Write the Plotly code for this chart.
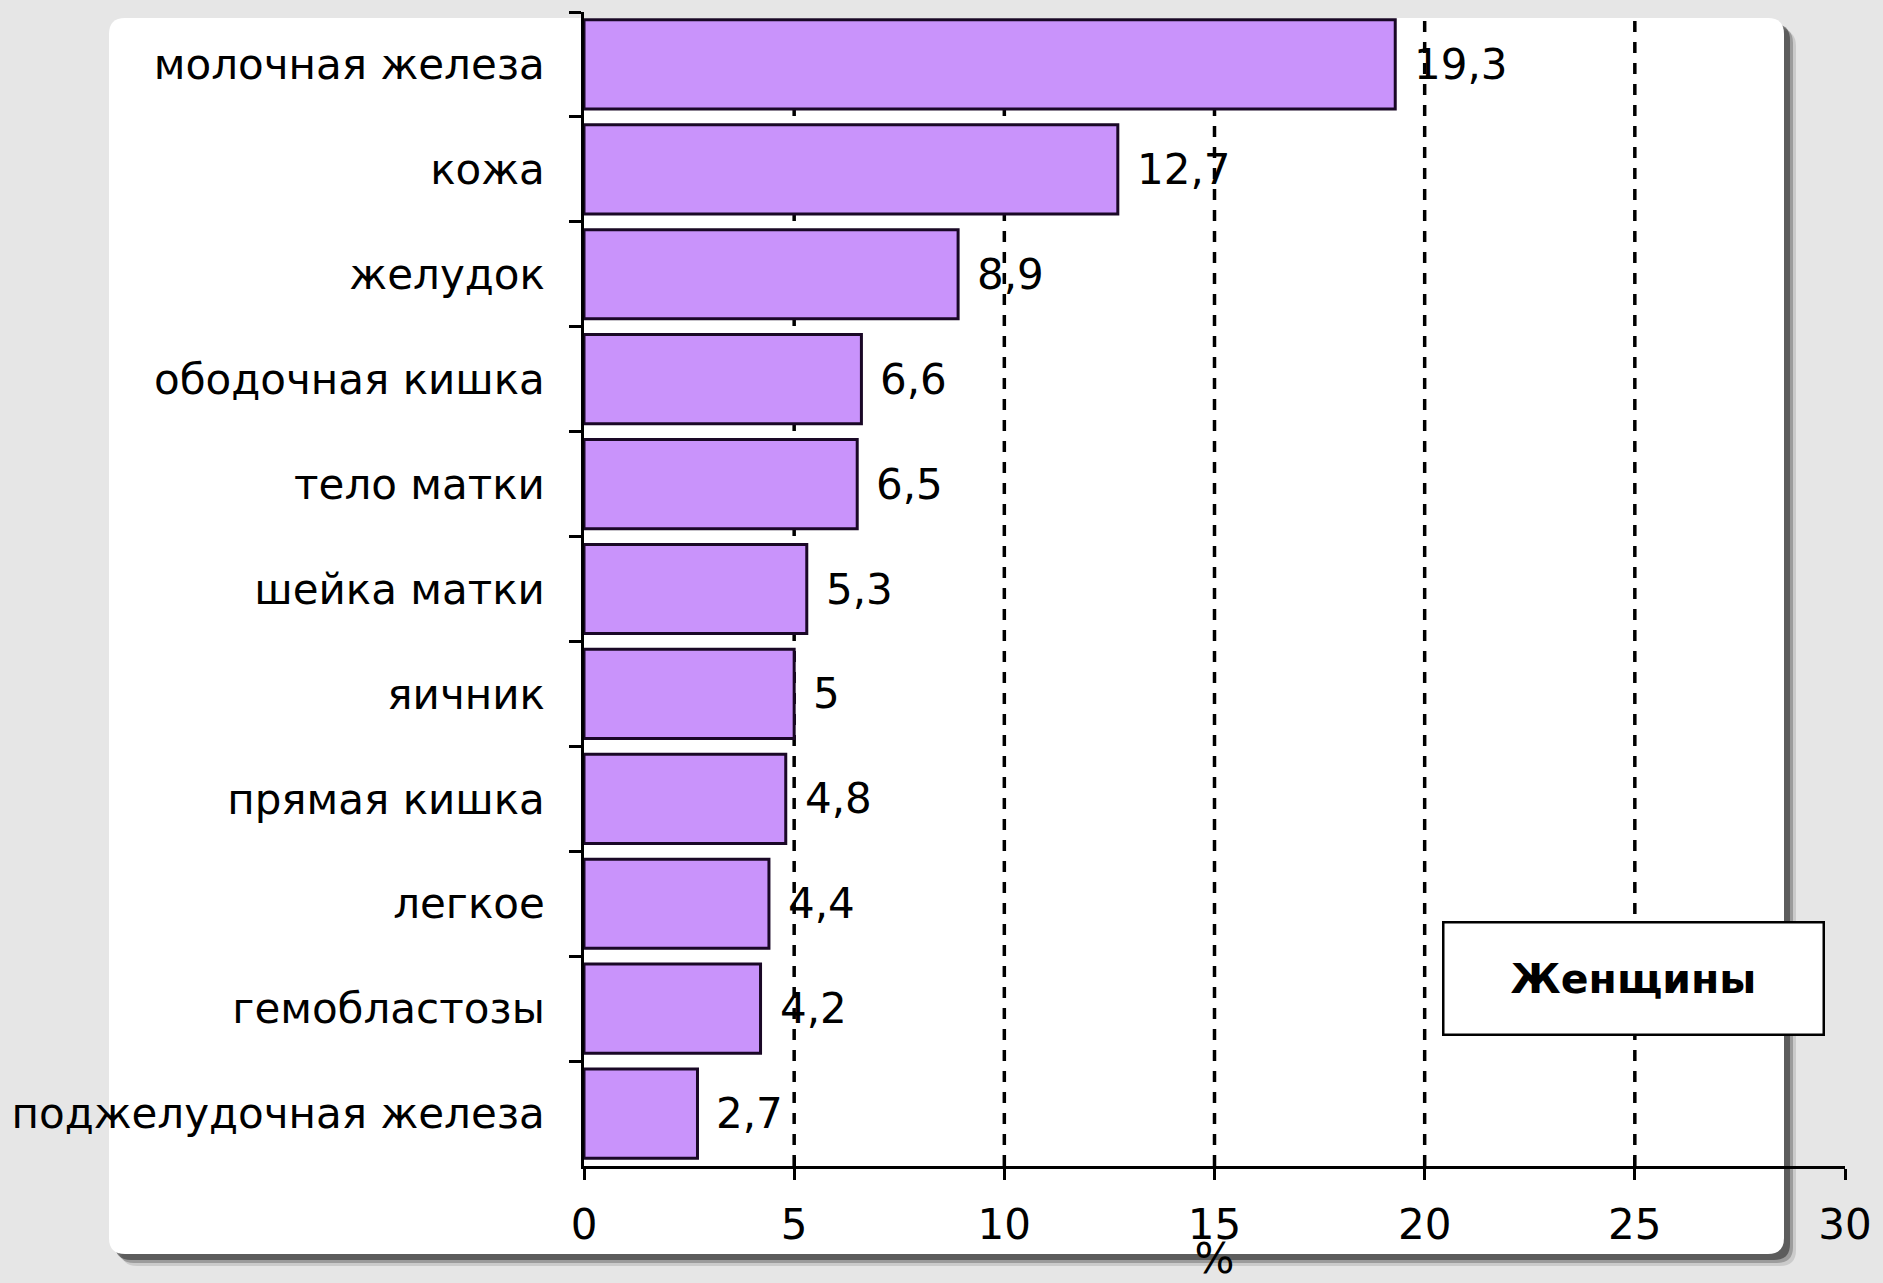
import plotly.graph_objects as go

# ---------------- data ----------------
categories = ["молочная железа", "кожа", "желудок", "ободочная кишка", "тело матки",
              "шейка матки", "яичник", "прямая кишка", "легкое", "гемобластозы",
              "поджелудочная железа"]
values = [19.3, 12.7, 8.9, 6.6, 6.5, 5.3, 5.0, 4.8, 4.4, 4.2, 2.7]
value_labels = ["19,3", "12,7", "8,9", "6,6", "6,5", "5,3", "5", "4,8", "4,4", "4,2", "2,7"]
x_tick_vals = [0, 5, 10, 15, 20, 25, 30]
grid_vals = [5, 10, 15, 20, 25]
legend_text = "Женщины"
axis_title = "%"

# ---------------- layout geometry ----------------
W, H = 1883, 1283
L, R, T, B = 584, 38, 12, 117
PW, PH = W - L - R, H - T - B
FONT = "DejaVu Sans"
FS = 42


def px_x(px):
    return (px - L) / PW


def px_y(py):
    return (H - B - py) / PH


def round_rect(x0, y0, x1, y1, r):
    rx, ry = r / PW, r / PH
    a, b, c, d = px_x(x0), px_x(x1), px_y(y0), px_y(y1)  # left, right, top, bottom
    return (f"M {a+rx},{c} L {b-rx},{c} Q {b},{c} {b},{c-ry} "
            f"L {b},{d+ry} Q {b},{d} {b-rx},{d} L {a+rx},{d} Q {a},{d} {a},{d+ry} "
            f"L {a},{c-ry} Q {a},{c} {a+rx},{c} Z")


shapes = []
# soft shadow of the white panel
for off, col in [(12, "rgba(110,110,110,0.22)"), (9, "rgba(70,70,70,0.35)"), (6, "rgba(40,40,40,0.55)")]:
    shapes.append(dict(type="path", xref="paper", yref="paper", layer="below",
                       path=round_rect(109 + off, 18 + off, 1784 + off, 1254 + off, 16),
                       fillcolor=col, line=dict(width=0)))
shapes.append(dict(type="path", xref="paper", yref="paper", layer="below",
                   path=round_rect(109, 18, 1784, 1254, 16),
                   fillcolor="white", line=dict(width=0)))
# dashed vertical gridlines
for g in grid_vals:
    shapes.append(dict(type="line", xref="x", yref="paper", layer="below",
                       x0=g, x1=g, y0=0, y1=1,
                       line=dict(color="black", width=3.5, dash="11px,10px")))

fig = go.Figure()
fig.add_trace(go.Bar(
    y=categories, x=values, orientation="h",
    marker=dict(color="#c993fb", line=dict(color="#1a0826", width=3)),
    hoverinfo="skip",
))
# invisible helper trace for the overlay axis that draws the upper half of the crossing x ticks
fig.add_trace(go.Scatter(x=[x_tick_vals[0]], y=[categories[0]], xaxis="x2", mode="markers",
                         marker=dict(opacity=0), hoverinfo="skip", showlegend=False))

annotations = []
for cat, v, lab in zip(categories, values, value_labels):
    annotations.append(dict(x=v, y=cat, xref="x", yref="y", text=lab, showarrow=False,
                            xanchor="left", yanchor="middle", xshift=17,
                            font=dict(family=FONT, size=FS, color="black")))
annotations.append(dict(x=px_x(1633), y=px_y(978), xref="paper", yref="paper",
                        text=f"<b>{legend_text}</b>", showarrow=False,
                        xanchor="center", yanchor="middle",
                        width=378, height=110, borderpad=0, borderwidth=2.5,
                        bordercolor="black", bgcolor="white", align="center",
                        font=dict(family=FONT, size=41, color="black")))

fig.update_layout(
    width=W, height=H,
    margin=dict(l=L, r=R, t=T, b=B, autoexpand=False),
    paper_bgcolor="#e6e6e6",
    plot_bgcolor="rgba(0,0,0,0)",
    showlegend=False,
    bargap=0.15,
    shapes=shapes,
    annotations=annotations,
    font=dict(family=FONT, size=FS, color="black"),
    xaxis=dict(
        range=[0, 30], tickvals=x_tick_vals, ticktext=[str(v) for v in x_tick_vals],
        showgrid=False, zeroline=False, showline=True, linecolor="black", linewidth=2.5,
        ticks="outside", ticklen=11, tickwidth=2.5, tickcolor="black",
        ticklabelstandoff=9, automargin=False,
        tickfont=dict(family=FONT, size=FS, color="black"),
        title=dict(text=axis_title, standoff=0, font=dict(family=FONT, size=FS, color="black")),
    ),
    xaxis2=dict(overlaying="x", anchor="y", side="bottom", range=[0, 30],
                tickvals=x_tick_vals, showticklabels=False, showgrid=False,
                zeroline=False, showline=False, ticks="inside", ticklen=9,
                tickwidth=2.5, tickcolor="black"),
    yaxis=dict(
        range=[len(categories) - 0.5, -0.5], autorange=False,
        showgrid=False, zeroline=False, showline=True,
        linecolor="black", linewidth=2.5, ticks="outside", tickson="boundaries",
        ticklen=12, tickwidth=2.5, tickcolor="black", ticklabelstandoff=28,
        automargin=False, tickfont=dict(family=FONT, size=FS, color="black"),
    ),
)

fig.write_html("out.html")
